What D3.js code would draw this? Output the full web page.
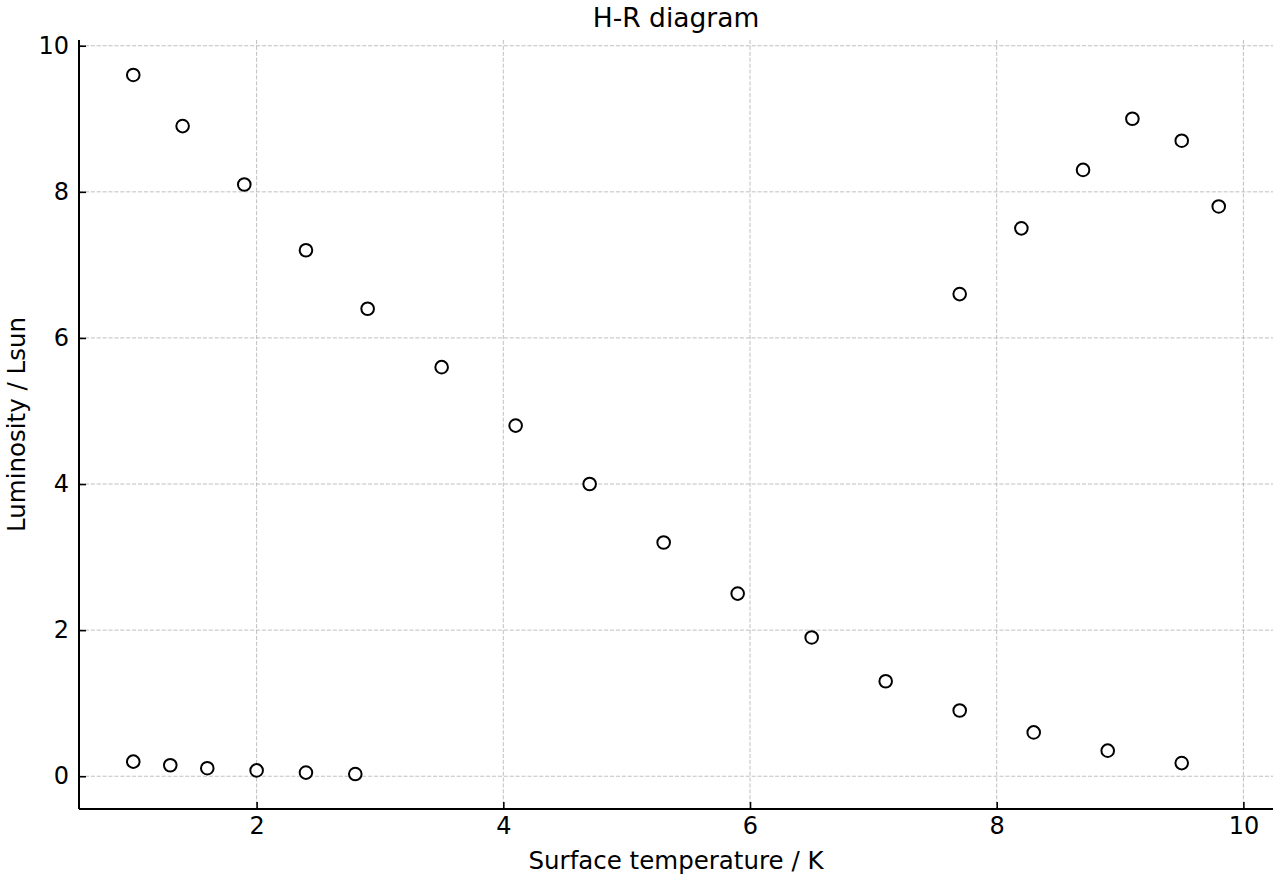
<!DOCTYPE html>
<html>
<head>
<meta charset="utf-8">
<script src="https://cdn.jsdelivr.net/npm/d3@7"></script>
<style>
  body { margin: 0; background: #fff; }
  svg { font-family: "DejaVu Sans", sans-serif; }
</style>
</head>
<body>
<div id="chart"></div>
<script>
// main sequence, giants, white dwarfs
const mainTemp = [1.0, 1.4, 1.9, 2.4, 2.9, 3.5, 4.1, 4.7, 5.3, 5.9, 6.5, 7.1, 7.7, 8.3, 8.9, 9.5];
const mainLum  = [9.6, 8.9, 8.1, 7.2, 6.4, 5.6, 4.8, 4.0, 3.2, 2.5, 1.9, 1.3, 0.9, 0.6, 0.35, 0.18];
const giantTemp = [7.7, 8.2, 8.7, 9.1, 9.5, 9.8];
const giantLum  = [6.6, 7.5, 8.3, 9.0, 8.7, 7.8];
const dwarfTemp = [1.0, 1.3, 1.6, 2.0, 2.4, 2.8];
const dwarfLum  = [0.2, 0.15, 0.11, 0.08, 0.05, 0.03];
const xTicks = [2, 4, 6, 8, 10];
const yTicks = [0, 2, 4, 6, 8, 10];

const W = 1280, H = 880;
const margin = { top: 40, right: 7, bottom: 71, left: 79 };
const width = W - margin.left - margin.right;
const height = H - margin.top - margin.bottom;

const points = [];
mainTemp.forEach((t, i) => points.push({ x: t, y: mainLum[i] }));
giantTemp.forEach((t, i) => points.push({ x: t, y: giantLum[i] }));
dwarfTemp.forEach((t, i) => points.push({ x: t, y: dwarfLum[i] }));

// 5% padding like matplotlib's default margins
const xExt = d3.extent(points, d => d.x);
const yExt = d3.extent(points, d => d.y);
const xPad = (xExt[1] - xExt[0]) * 0.05;
const yPad = (yExt[1] - yExt[0]) * 0.05;

const x = d3.scaleLinear().domain([xExt[0] - xPad, xExt[1] + xPad]).range([0, width]);
const y = d3.scaleLinear().domain([yExt[0] - yPad, yExt[1] + yPad]).range([height, 0]);

const svg = d3.select("#chart").append("svg")
  .attr("width", W).attr("height", H);

const g = svg.append("g").attr("transform", `translate(${margin.left},${margin.top})`);

// grid
g.append("g").selectAll("line").data(xTicks).join("line")
  .attr("x1", d => x(d)).attr("x2", d => x(d))
  .attr("y1", 0).attr("y2", height)
  .attr("stroke", "#b0b0b0").attr("stroke-width", 0.8).attr("stroke-dasharray", "4.1,1.8");
g.append("g").selectAll("line").data(yTicks).join("line")
  .attr("y1", d => y(d)).attr("y2", d => y(d))
  .attr("x1", 0).attr("x2", width)
  .attr("stroke", "#b0b0b0").attr("stroke-width", 0.8).attr("stroke-dasharray", "4.1,1.8");

// axes (ticks pointing inward)
const xAxis = d3.axisBottom(x).tickValues(xTicks).tickSize(-7).tickPadding(8).tickFormat(d3.format("d"));
const yAxis = d3.axisLeft(y).tickValues(yTicks).tickSize(-7).tickPadding(10).tickFormat(d3.format("d"));

const xg = g.append("g").attr("transform", `translate(0,${height})`).call(xAxis);
const yg = g.append("g").call(yAxis);
[xg, yg].forEach(a => {
  a.select(".domain").remove();
  a.selectAll(".tick line").attr("stroke", "#000").attr("stroke-width", 1.6);
  a.selectAll(".tick text").attr("font-size", 24).attr("fill", "#000")
    .attr("font-family", "DejaVu Sans, sans-serif");
});

// spines
g.append("line").attr("x1", 0).attr("x2", 0).attr("y1", 0).attr("y2", height)
  .attr("stroke", "#000").attr("stroke-width", 2);
g.append("line").attr("x1", 0).attr("x2", width).attr("y1", height).attr("y2", height)
  .attr("stroke", "#000").attr("stroke-width", 2);

// points
g.append("g").selectAll("circle").data(points).join("circle")
  .attr("cx", d => x(d.x)).attr("cy", d => y(d.y)).attr("r", 6.3)
  .attr("fill", "#fff").attr("stroke", "#000").attr("stroke-width", 2);

// labels
svg.append("text").attr("x", margin.left + width / 2).attr("y", 27)
  .attr("text-anchor", "middle").attr("font-size", 26.5).text("H-R diagram");
svg.append("text").attr("x", margin.left + width / 2).attr("y", 869)
  .attr("text-anchor", "middle").attr("font-size", 24.5).text("Surface temperature / K");
svg.append("text")
  .attr("transform", `translate(25,${margin.top + height / 2}) rotate(-90)`)
  .attr("text-anchor", "middle").attr("font-size", 24.5).text("Luminosity / Lsun");
</script>
</body>
</html>
